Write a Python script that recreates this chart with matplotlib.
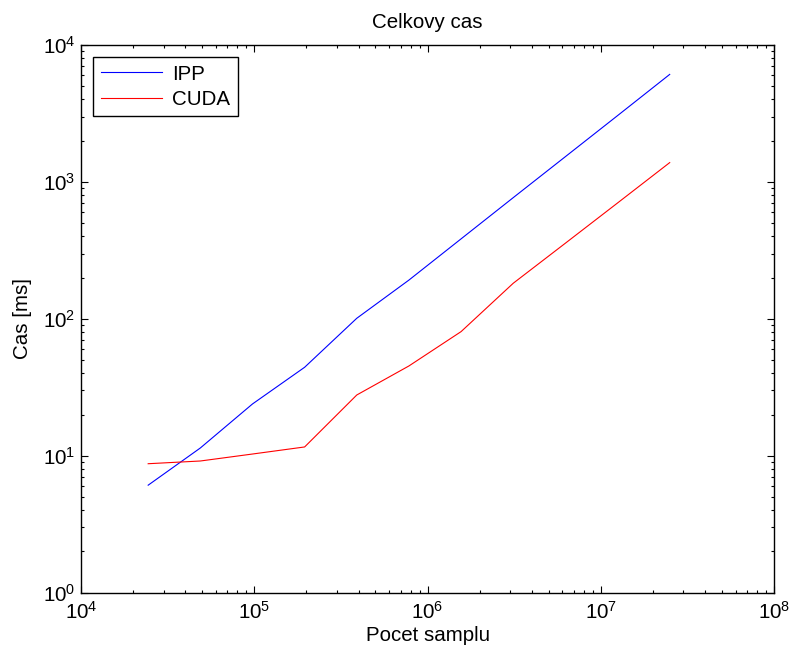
import numpy as np
import matplotlib
matplotlib.use('Agg')
import matplotlib.pyplot as plt
from matplotlib.ticker import LogLocator, NullFormatter, FixedLocator

plt.rcParams['font.family'] = ['Liberation Sans', 'DejaVu Sans']
plt.rcParams['mathtext.fontset'] = 'custom'
plt.rcParams['mathtext.rm'] = 'Liberation Sans'

# number of samples (doubling)
samples = [24414, 48828, 97656, 195312, 390625, 781250,
           1562500, 3125000, 6250000, 12500000, 25000000]
ipp_ms = [6.1, 11.4, 23.9, 44.3, 101, 192, 384, 768, 1530, 3050, 6100]
cuda_ms = [8.75, 9.16, 10.3, 11.6, 27.8, 45.3, 80.7, 182, 357, 702, 1384]

x_exps = [4, 5, 6, 7, 8]
y_exps = [0, 1, 2, 3, 4]

fs = 14.8

fig = plt.figure(figsize=(7.95, 6.59), dpi=100)
ax = fig.add_axes([0.1019, 0.1006, 0.8717, 0.8311])

ax.plot(samples, ipp_ms, color='blue', lw=0.8, label='IPP')
ax.plot(samples, cuda_ms, color='red', lw=0.8, label='CUDA')

ax.set_xscale('log')
ax.set_yscale('log')
ax.set_xlim(10**x_exps[0], 10**x_exps[-1])
ax.set_ylim(10**y_exps[0], 10**y_exps[-1])

ax.xaxis.set_major_locator(FixedLocator([10.0**e for e in x_exps]))
ax.yaxis.set_major_locator(FixedLocator([10.0**e for e in y_exps]))
ax.set_xticklabels([r'$\mathregular{10^{%d}}$' % e for e in x_exps])
ax.set_yticklabels([r'$\mathregular{10^{%d}}$' % e for e in y_exps])
ax.xaxis.set_minor_locator(LogLocator(base=10, subs=np.arange(2, 10)))
ax.yaxis.set_minor_locator(LogLocator(base=10, subs=np.arange(2, 10)))
ax.xaxis.set_minor_formatter(NullFormatter())
ax.yaxis.set_minor_formatter(NullFormatter())

ax.tick_params(which='both', direction='in', top=True, right=True, labelsize=fs, width=0.8)
ax.tick_params(which='major', length=5)
ax.tick_params(which='minor', length=2.5)
ax.tick_params(axis='x', pad=6)
ax.tick_params(axis='y', pad=4)
for s in ax.spines.values():
    s.set_linewidth(1.0)

ax.set_title('Celkovy cas', fontsize=fs, pad=12)
ax.set_xlabel('Pocet samplu', fontsize=fs, labelpad=2)
ax.set_ylabel('Cas [ms]', fontsize=fs, labelpad=8)

leg = ax.legend(loc='upper left', fontsize=fs, fancybox=False, framealpha=1,
                edgecolor='black', borderaxespad=0.6, handlelength=3.0,
                handletextpad=0.5, labelspacing=0.3, borderpad=0.35)
leg.get_frame().set_linewidth(1.0)

fig.savefig('out.png', dpi=100)
